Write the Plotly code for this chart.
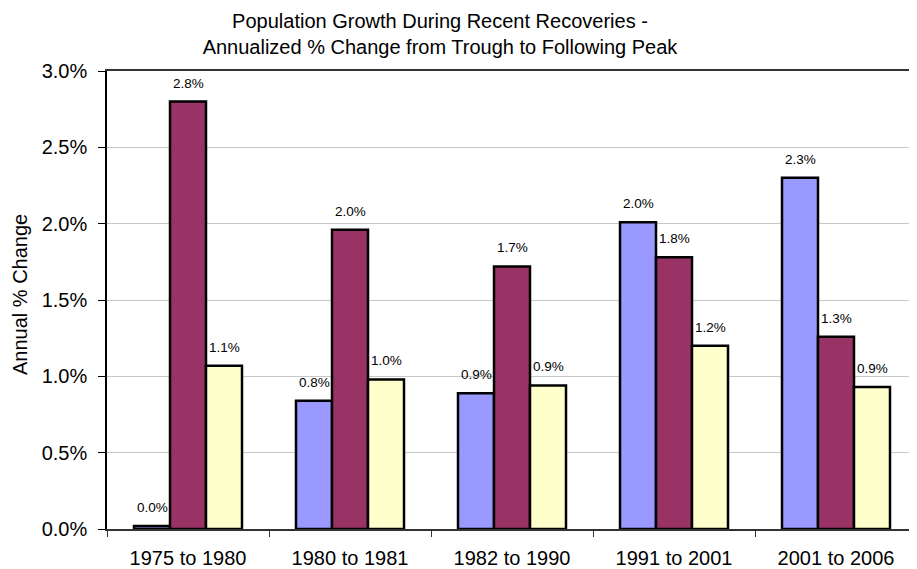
import plotly.graph_objects as go

categories = ["1975 to 1980", "1980 to 1981", "1982 to 1990", "1991 to 2001", "2001 to 2006"]
series_1 = [0.02, 0.84, 0.89, 2.01, 2.30]
series_2 = [2.80, 1.96, 1.72, 1.78, 1.26]
series_3 = [1.07, 0.98, 0.94, 1.20, 0.93]
y_ticks = [0.0, 0.5, 1.0, 1.5, 2.0, 2.5, 3.0]
y_tick_text = [f"{v:.1f}%" for v in y_ticks]

FONT = "Liberation Sans, Arial, Helvetica, sans-serif"
colors = ["#9999FF", "#993366", "#FFFFCC"]
names = ["Series 1", "Series 2", "Series 3"]

# page body has an 8px margin; size the figure so the plot area lands where the reference has it
BODY = 8
W, H = 917 - BODY, 569 - BODY
L, T, B = 107 - BODY, 71 - BODY, 40
plot_w = W - L
bar_w = plot_w / len(categories) * (2 / 3) / 3

fig = go.Figure()
annotations = []
for i, (name, vals, col) in enumerate(zip(names, [series_1, series_2, series_3], colors)):
    fig.add_trace(go.Bar(
        x=categories, y=vals, name=name,
        marker=dict(color=col, line=dict(color="#000000", width=2.5)),
        cliponaxis=False, showlegend=False,
    ))
    for c, v in zip(categories, vals):
        annotations.append(dict(
            x=c, y=v, xref="x", yref="y", text=f"{v:.1f}%",
            xshift=(i - 1) * bar_w, yshift=9, yanchor="bottom", xanchor="center",
            showarrow=False, font=dict(family=FONT, size=13.5, color="#000000"),
        ))

annotations.append(dict(
    text="Annual % Change", textangle=-90,
    xref="paper", yref="paper", x=(20 - 107) / plot_w, y=0.5,
    xanchor="center", yanchor="middle", yshift=5, showarrow=False,
    font=dict(family=FONT, size=20, color="#000000"),
))

fig.update_layout(
    width=W, height=H,
    margin=dict(l=L, r=0, t=T, b=B),
    paper_bgcolor="white", plot_bgcolor="white",
    barmode="group", bargap=1/3, bargroupgap=0,
    title=dict(
        text="Population Growth During Recent Recoveries -<br>Annualized % Change from Trough to Following Peak",
        x=(440 - BODY) / W, xanchor="center", xref="container",
        y=0.964, yanchor="top", yref="container",
        font=dict(family=FONT, size=20, color="#000000"),
    ),
    font=dict(family=FONT, color="#000000"),
    annotations=annotations,
)

fig.update_xaxes(
    automargin=False,
    showline=True, linecolor="#333333", linewidth=1.5, mirror=True,
    ticks="outside", tickson="boundaries", ticklen=6, tickcolor="#333333",
    ticklabelstandoff=10,
    tickfont=dict(family=FONT, size=20, color="#000000"),
    showgrid=False,
)
fig.update_yaxes(
    automargin=False,
    range=[0, 3.0], tickvals=y_ticks, ticktext=y_tick_text,
    showline=True, linecolor="#000000", linewidth=1.5,
    ticks="outside", ticklen=7, tickcolor="#000000",
    ticklabelstandoff=7,
    tickfont=dict(family=FONT, size=20, color="#000000"),
    showgrid=True, gridcolor="#C8C8C8", gridwidth=1,
    zeroline=False,
)

fig.write_html("out.html")
